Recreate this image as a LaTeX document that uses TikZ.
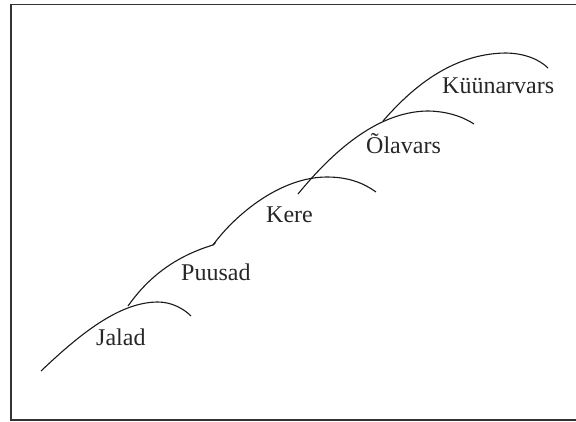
\documentclass[tikz,border=0pt]{standalone}
\usepackage{fontspec}
\setmainfont{Liberation Serif}
\begin{document}
\begin{tikzpicture}[x=1pt,y=-1pt,
  arc/.style={line width=1.1pt,black!90},
  frame/.style={line width=1.3pt,black!80},
  lbl/.style={anchor=base west,inner sep=0pt,font=\fontsize{24}{28}\selectfont,text=black!85}]
\useasboundingbox (0,0) rectangle (576,421);
\draw[frame] (577,4.3) -- (11,4.3) -- (11,420) -- (577,420);
% named points
\coordinate (j0) at (41,371);
\coordinate (jp) at (158,302);
\coordinate (j1) at (191,316);
\coordinate (p0) at (128,306);
\coordinate (p1) at (213,245);
\coordinate (kp) at (327,177);
\coordinate (k1) at (376,192);
\coordinate (o0) at (298,194);
\coordinate (op) at (427,111);
\coordinate (o1) at (474,124);
\coordinate (u0) at (383,121);
\coordinate (up) at (505,53);
\coordinate (u1) at (548,68);
% arcs
\draw[arc] (j0) .. controls (81,333) and (120,302) .. (jp) .. controls (172,302) and (184,309) .. (j1);
\draw[arc] (p0) .. controls (145,282) and (170,258) .. (p1) -- (215.5,242.5);
\draw[arc] (p1) .. controls (235,215) and (280,177) .. (kp) .. controls (350,177) and (365,184) .. (k1);
\draw[arc] (o0) .. controls (330,155) and (375,112) .. (op) .. controls (445,111) and (462,116) .. (o1);
\draw[arc] (u0) .. controls (410,90) and (450,54) .. (up) .. controls (525,53) and (540,60) .. (u1);
% labels
\node[lbl] (jalad) at (96,345) {Jalad};
\node[lbl] (puusad) at (181,280) {Puusad};
\node[lbl] (kere) at (266,222) {Kere};
\node[lbl] (olavars) at (366,153) {Õlavars};
\node[lbl] (kuunarvars) at (442,93) {Küünarvars};
\end{tikzpicture}
\end{document}
